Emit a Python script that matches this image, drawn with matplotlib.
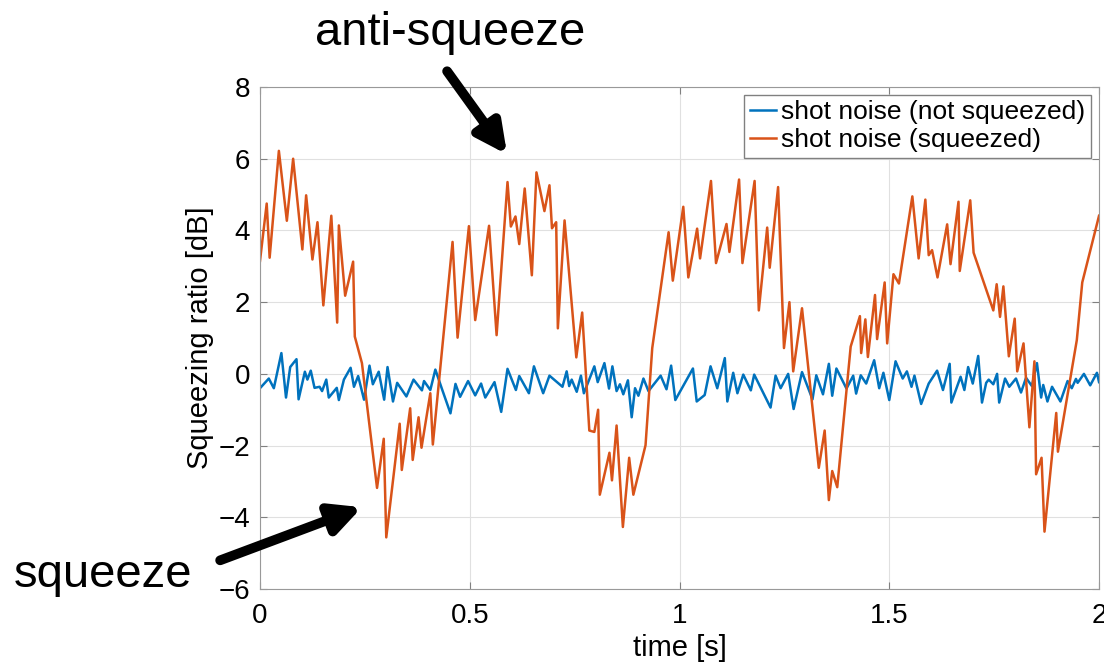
import matplotlib.pyplot as plt

plt.rcParams['font.family'] = ['Liberation Sans', 'DejaVu Sans']

# shot noise, not squeezed (blue)
t_ref = [0.000, 0.021, 0.033, 0.051, 0.062, 0.072, 0.087, 0.092, 0.107, 0.113,
         0.121, 0.130, 0.142, 0.148, 0.158, 0.164, 0.183, 0.188, 0.200, 0.216,
         0.224, 0.234, 0.248, 0.261, 0.269, 0.283, 0.296, 0.304, 0.317, 0.327,
         0.349, 0.366, 0.386, 0.391, 0.406, 0.418, 0.434, 0.454, 0.466, 0.477,
         0.496, 0.513, 0.527, 0.537, 0.559, 0.575, 0.590, 0.610, 0.618, 0.641,
         0.653, 0.675, 0.690, 0.721, 0.731, 0.737, 0.743, 0.755, 0.765, 0.772,
         0.797, 0.805, 0.821, 0.832, 0.840, 0.850, 0.858, 0.866, 0.877, 0.886,
         0.894, 0.902, 0.914, 0.926, 0.955, 0.969, 0.980, 0.990, 1.032, 1.041,
         1.060, 1.074, 1.090, 1.108, 1.114, 1.128, 1.138, 1.152, 1.170, 1.178,
         1.217, 1.229, 1.241, 1.259, 1.272, 1.292, 1.317, 1.326, 1.342, 1.356,
         1.364, 1.374, 1.398, 1.414, 1.421, 1.432, 1.445, 1.464, 1.476, 1.486,
         1.500, 1.515, 1.532, 1.542, 1.553, 1.560, 1.576, 1.594, 1.614, 1.628,
         1.644, 1.648, 1.670, 1.679, 1.688, 1.699, 1.712, 1.721, 1.731, 1.737,
         1.748, 1.757, 1.762, 1.776, 1.786, 1.802, 1.814, 1.826, 1.840, 1.852,
         1.862, 1.867, 1.877, 1.888, 1.908, 1.925, 1.935, 1.945, 1.949, 1.964,
         1.979, 1.995, 2.000]
v_ref = [-0.40, -0.13, -0.40, 0.58, -0.66, 0.19, 0.41, -0.71, 0.06, -0.16,
         0.09, -0.39, -0.36, -0.48, -0.16, -0.66, -0.39, -0.73, -0.16, 0.17,
         -0.36, -0.06, -0.72, 0.23, -0.29, 0.06, -0.72, 0.19, -0.77, -0.25,
         -0.63, -0.16, -0.46, -0.20, -0.45, 0.12, -0.43, -1.10, -0.28, -0.64,
         -0.20, -0.60, -0.27, -0.66, -0.23, -1.06, 0.14, -0.45, -0.06, -0.54,
         0.21, -0.54, -0.05, -0.36, 0.07, -0.34, -0.16, -0.50, -0.05, -0.54,
         0.21, -0.23, 0.30, -0.41, 0.21, -0.48, -0.29, -0.57, -0.18, -1.21,
         -0.40, -0.61, -0.13, -0.48, -0.05, -0.43, 0.23, -0.73, 0.15, -0.77,
         -0.59, 0.21, -0.40, 0.44, -0.77, 0.03, -0.54, -0.02, -0.46, -0.02,
         -0.94, -0.05, -0.40, 0.00, -0.98, 0.05, -0.71, -0.04, -0.57, 0.28,
         -0.61, 0.15, -0.41, -0.05, -0.55, -0.04, -0.27, 0.38, -0.40, 0.03,
         -0.73, 0.35, -0.13, 0.07, -0.36, -0.05, -0.84, -0.27, 0.09, -0.45,
         0.28, -0.80, -0.08, -0.45, 0.19, -0.27, 0.50, -0.80, -0.25, -0.16,
         -0.29, 0.00, -0.80, -0.13, -0.36, -0.13, -0.52, -0.11, -0.34, 0.30,
         -0.66, -0.31, -0.77, -0.36, -0.77, -0.20, -0.40, -0.14, -0.25, 0.00,
         -0.32, 0.03, -0.23]

# shot noise, squeezed (orange)
t_sq = [0.000, 0.016, 0.023, 0.045, 0.064, 0.079, 0.101, 0.110, 0.125, 0.137,
        0.151, 0.170, 0.184, 0.188, 0.203, 0.222, 0.226, 0.243, 0.279, 0.295,
        0.301, 0.333, 0.338, 0.358, 0.364, 0.378, 0.385, 0.406, 0.412, 0.459,
        0.471, 0.498, 0.513, 0.546, 0.564, 0.590, 0.598, 0.609, 0.618, 0.631,
        0.648, 0.659, 0.678, 0.690, 0.696, 0.706, 0.710, 0.726, 0.754, 0.768,
        0.785, 0.797, 0.806, 0.810, 0.833, 0.839, 0.850, 0.865, 0.880, 0.890,
        0.919, 0.935, 0.974, 0.984, 1.009, 1.021, 1.042, 1.049, 1.075, 1.087,
        1.112, 1.119, 1.142, 1.150, 1.179, 1.189, 1.209, 1.215, 1.235, 1.249,
        1.262, 1.271, 1.292, 1.332, 1.346, 1.356, 1.364, 1.376, 1.408, 1.430,
        1.433, 1.443, 1.449, 1.466, 1.471, 1.489, 1.495, 1.510, 1.523, 1.555,
        1.570, 1.586, 1.594, 1.602, 1.615, 1.638, 1.646, 1.665, 1.668, 1.693,
        1.701, 1.748, 1.756, 1.764, 1.772, 1.785, 1.799, 1.805, 1.820, 1.834,
        1.846, 1.850, 1.863, 1.870, 1.898, 1.902, 1.947, 1.960, 2.000]
v_sq = [3.15, 4.75, 3.24, 6.22, 4.27, 6.00, 3.47, 4.98, 3.19, 4.23,
        1.91, 4.41, 1.43, 4.14, 2.18, 3.13, 1.04, 0.30, -3.18, -1.81,
        -4.56, -1.39, -2.68, -0.96, -2.40, -1.21, -2.06, -0.54, -1.97, 3.68,
        1.01, 4.12, 1.50, 4.13, 1.08, 5.35, 4.11, 4.39, 3.62, 5.17,
        2.75, 5.62, 4.54, 5.26, 4.06, 4.23, 1.27, 4.28, 0.46, 1.71,
        -1.58, -1.62, -1.00, -3.37, -2.20, -2.97, -1.44, -4.27, -2.34, -3.37,
        -1.99, 0.72, 3.95, 2.60, 4.66, 2.69, 4.05, 3.22, 5.38, 3.09,
        4.18, 3.40, 5.42, 3.09, 5.38, 1.77, 4.08, 2.96, 5.21, 0.72,
        2.00, 0.07, 1.83, -2.62, -1.58, -3.52, -2.71, -3.16, 0.76, 1.61,
        0.58, 1.52, 0.47, 2.20, 0.97, 2.55, 0.85, 2.78, 2.52, 4.95,
        3.22, 4.86, 3.31, 3.45, 2.69, 4.17, 3.06, 4.80, 2.87, 4.84,
        3.38, 1.77, 2.50, 1.59, 2.44, 0.49, 1.54, 0.07, 0.85, -1.49,
        0.35, -2.80, -2.34, -4.40, -1.09, -2.17, 0.94, 2.55, 4.41]

x_ticks = [0, 0.5, 1, 1.5, 2]
x_ticklabels = ["0", "0.5", "1", "1.5", "2"]
y_ticks = [-6, -4, -2, 0, 2, 4, 6, 8]

fig = plt.figure(figsize=(11.04, 6.72), dpi=100)
ax = fig.add_axes([0.2355, 0.1235, 0.76, 0.747])

ax.plot(t_ref, v_ref, color='#0072BD', lw=1.8, label='shot noise (not squeezed)')
ax.plot(t_sq, v_sq, color='#D95319', lw=1.8, label='shot noise (squeezed)')

ax.set_xlim(0, 2)
ax.set_ylim(-6, 8)
ax.set_xticks(x_ticks)
ax.set_xticklabels(x_ticklabels)
ax.set_yticks(y_ticks)
ax.grid(True, color='0.88', lw=0.8)
ax.tick_params(direction='in', top=True, right=True, labelsize=20, length=5,
               color='0.5')
ax.tick_params(axis='x', pad=10)
ax.tick_params(axis='y', pad=7)
for s in ax.spines.values():
    s.set_color('0.6')
ax.set_xlabel('time [s]', fontsize=21, labelpad=4)
ax.set_ylabel('Squeezing ratio [dB]', fontsize=21, labelpad=3)

leg = ax.legend(loc='upper right', bbox_to_anchor=(0.99, 0.984), borderaxespad=0,
                fontsize=19, handlelength=1.0, handletextpad=0.2,
                labelspacing=0.15, borderpad=0.2, fancybox=False, framealpha=1)
leg.get_frame().set_edgecolor('0.5')
leg.get_frame().set_linewidth(1.0)

ax.annotate('', xy=(0.589, 6.12), xytext=(0.446, 8.44), annotation_clip=False,
            arrowprops=dict(arrowstyle='-|>', lw=7, mutation_scale=45, color='k',
                            shrinkA=0, shrinkB=0))
ax.annotate('', xy=(0.243, -3.72), xytext=(-0.095, -5.2), annotation_clip=False,
            arrowprops=dict(arrowstyle='-|>', lw=7, mutation_scale=45, color='k',
                            shrinkA=0, shrinkB=0))
ax.text(0.453, 9.5, 'anti-squeeze', fontsize=34, ha='center', va='center',
        clip_on=False)
ax.text(-0.374, -5.62, 'squeeze', fontsize=34, ha='center', va='center',
        clip_on=False)

plt.savefig('out.png', dpi=100)
